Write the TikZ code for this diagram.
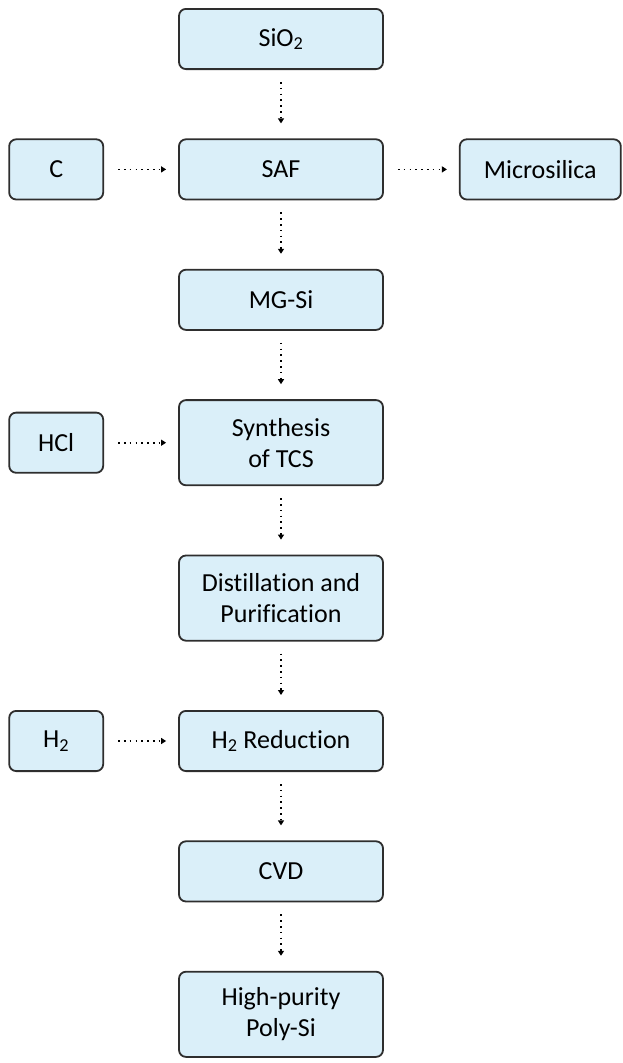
\documentclass[tikz,border=0pt]{standalone}
\usepackage{fontspec}
\setmainfont[Ligatures=NoCommon]{Carlito}
\usepackage{tikz}
\usetikzlibrary{arrows.meta,positioning}

\definecolor{boxfill}{HTML}{DAEFF9}
\definecolor{boxline}{HTML}{2E2E2E}

\begin{document}
\begin{tikzpicture}[
  node distance=68.4pt and 74pt,
  every node/.style={font=\fontsize{26}{31}\selectfont},
  stage/.style={draw=boxline, fill=boxfill, line width=1.8pt, rounded corners=7pt,
                minimum width=204pt, minimum height=60.2pt, align=center},
  tall/.style={minimum height=85.2pt},
  feed/.style={draw=boxline, fill=boxfill, line width=1.8pt, rounded corners=7pt,
               minimum width=94pt, minimum height=60.2pt, align=center},
  arr/.style={-{Triangle[length=5pt,width=6pt]}, draw=black, line width=1.6pt,
              dash pattern=on 1.6pt off 4.2pt},
  varr/.style={arr, shorten <=12pt, shorten >=15pt},
  harr/.style={arr, shorten <=14pt, shorten >=12pt}
]
\useasboundingbox (0,0) rectangle (623pt,-1063pt);

\node[stage] (sio2) at (281pt,-39pt) {SiO\textsubscript{2}};
\node[stage, below=of sio2] (saf) {SAF};
\node[stage, below=of saf] (mgsi) {MG-Si};
\node[stage, tall, below=of mgsi] (tcs) {Synthesis\\of TCS};
\node[stage, tall, below=of tcs] (dist) {Distillation and\\Purification};
\node[stage, below=of dist] (red) {H\textsubscript{2} Reduction};
\node[stage, below=of red] (cvd) {CVD};
\node[stage, tall, below=of cvd] (poly) {High-purity\\Poly-Si};

\node[feed, left=of saf] (carbon) {C};
\node[feed, left=of tcs] (hcl) {HCl};
\node[feed, left=of red] (hyd) {H\textsubscript{2}};
\node[feed, minimum width=161pt, right=75pt of saf] (micro) {Microsilica};

\draw[varr] (sio2) -- (saf);
\draw[varr] (saf) -- (mgsi);
\draw[varr] (mgsi) -- (tcs);
\draw[varr] (tcs) -- (dist);
\draw[varr] (dist) -- (red);
\draw[varr] (red) -- (cvd);
\draw[varr] (cvd) -- (poly);

\draw[harr] (carbon) -- (saf);
\draw[harr] (saf) -- (micro);
\draw[harr] (hcl) -- (tcs);
\draw[harr] (hyd) -- (red);
\end{tikzpicture}
\end{document}
